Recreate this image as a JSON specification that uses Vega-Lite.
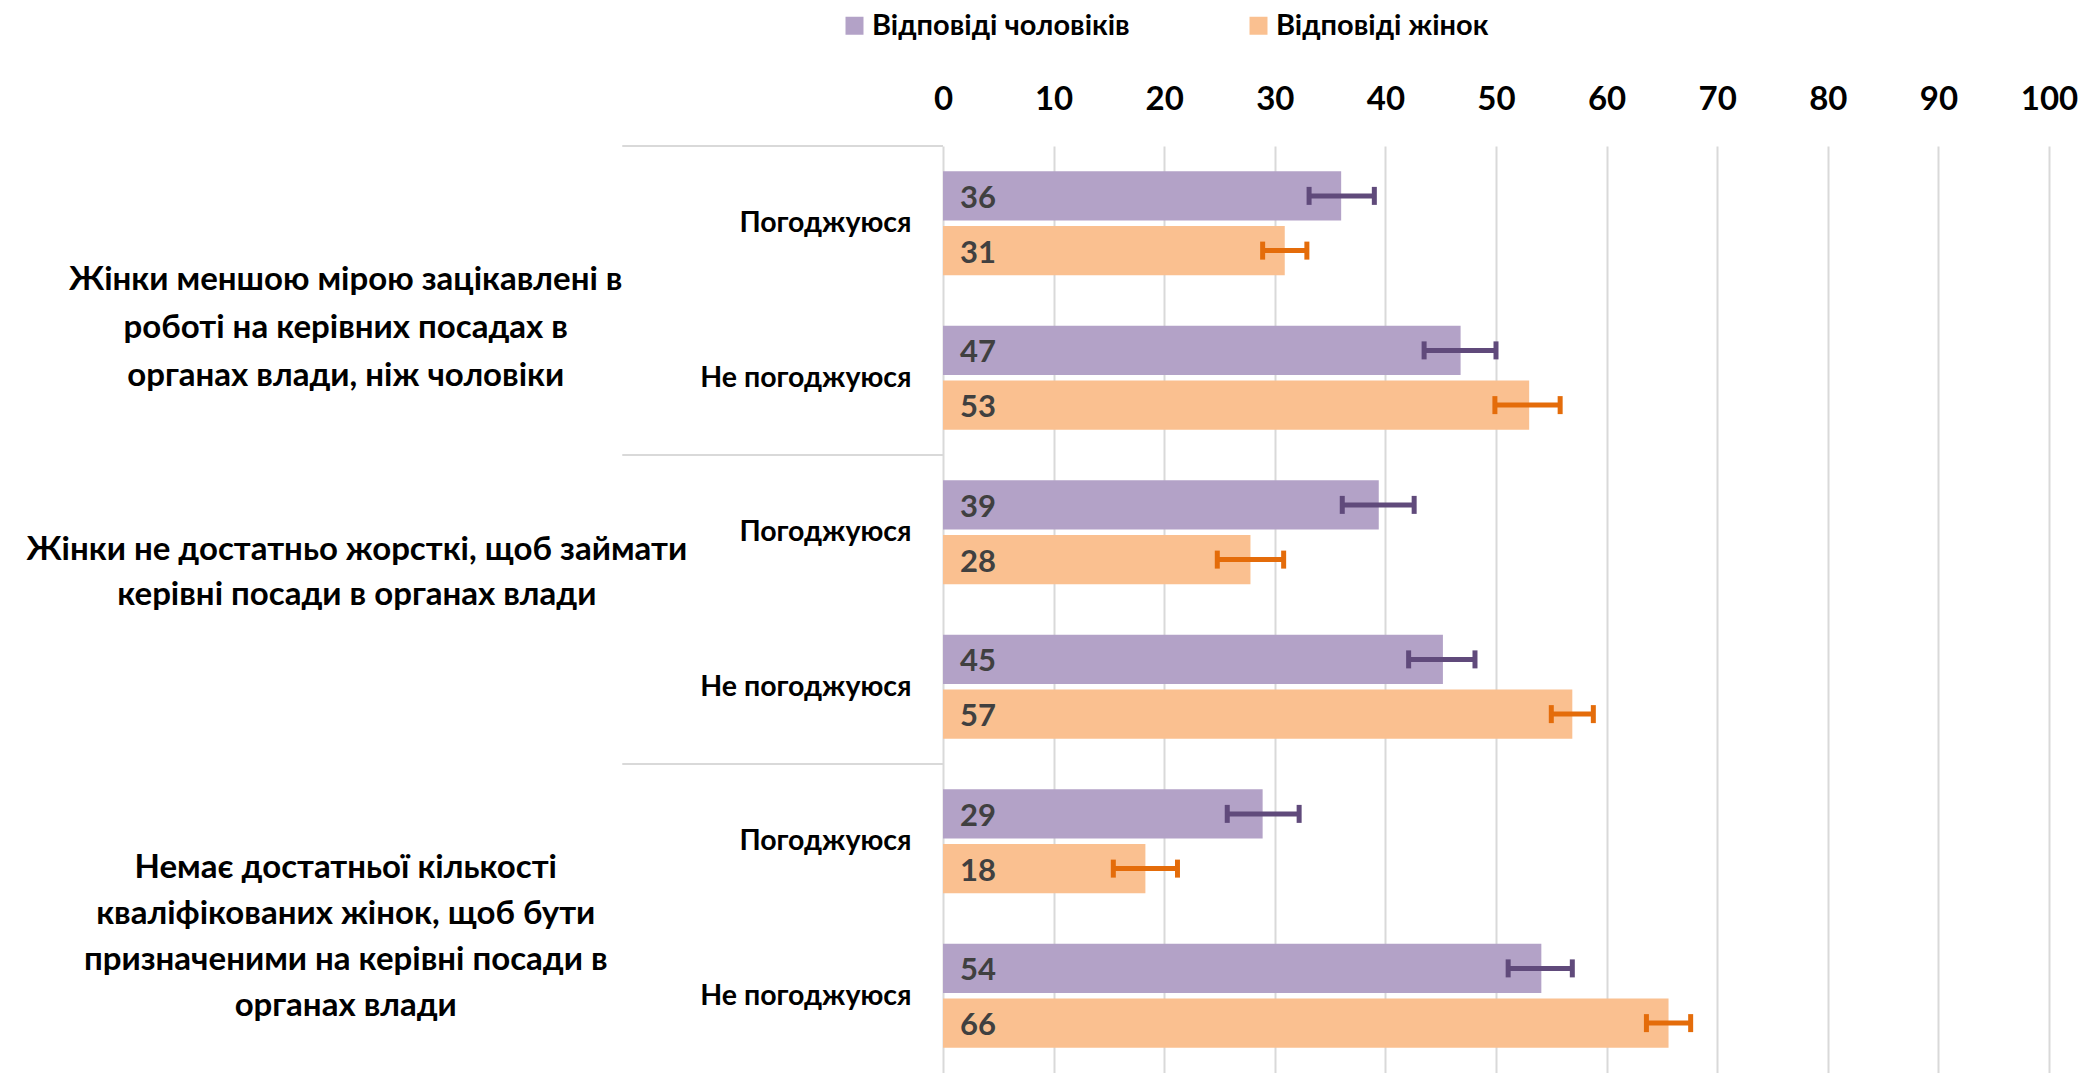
{
  "$schema": "https://vega.github.io/schema/vega-lite/v6.json",
  "autosize": "none",
  "padding": {"left": 943, "top": 146, "right": 48, "bottom": 0},
  "width": 1106,
  "height": 927,
  "background": "white",
  "datasets": {
    "bars": [
      {"key": "1|Погоджуюся", "resp": "Погоджуюся", "gender": "Відповіді чоловіків", "value": 36.0, "lo": 33.1, "hi": 39.0},
      {"key": "1|Погоджуюся", "resp": "Погоджуюся", "gender": "Відповіді жінок", "value": 30.9, "lo": 28.9, "hi": 32.9},
      {"key": "1|Не погоджуюся", "resp": "Не погоджуюся", "gender": "Відповіді чоловіків", "value": 46.8, "lo": 43.5, "hi": 50.0},
      {"key": "1|Не погоджуюся", "resp": "Не погоджуюся", "gender": "Відповіді жінок", "value": 53.0, "lo": 49.9, "hi": 55.8},
      {"key": "2|Погоджуюся", "resp": "Погоджуюся", "gender": "Відповіді чоловіків", "value": 39.4, "lo": 36.1, "hi": 42.6},
      {"key": "2|Погоджуюся", "resp": "Погоджуюся", "gender": "Відповіді жінок", "value": 27.8, "lo": 24.8, "hi": 30.8},
      {"key": "2|Не погоджуюся", "resp": "Не погоджуюся", "gender": "Відповіді чоловіків", "value": 45.2, "lo": 42.1, "hi": 48.1},
      {"key": "2|Не погоджуюся", "resp": "Не погоджуюся", "gender": "Відповіді жінок", "value": 56.9, "lo": 55.0, "hi": 58.8},
      {"key": "3|Погоджуюся", "resp": "Погоджуюся", "gender": "Відповіді чоловіків", "value": 28.9, "lo": 25.7, "hi": 32.2},
      {"key": "3|Погоджуюся", "resp": "Погоджуюся", "gender": "Відповіді жінок", "value": 18.3, "lo": 15.4, "hi": 21.2},
      {"key": "3|Не погоджуюся", "resp": "Не погоджуюся", "gender": "Відповіді чоловіків", "value": 54.1, "lo": 51.1, "hi": 56.9},
      {"key": "3|Не погоджуюся", "resp": "Не погоджуюся", "gender": "Відповіді жінок", "value": 65.6, "lo": 63.6, "hi": 67.6}
    ],
    "questions": [
      {"q": 1, "key": "1|Не погоджуюся", "text": "Жінки меншою мірою зацікавлені в\nроботі на керівних посадах в\nорганах влади, ніж чоловіки"},
      {"q": 2, "key": "2|Не погоджуюся", "text": "Жінки не достатньо жорсткі, щоб займати\nкерівні посади в органах влади"},
      {"q": 3, "key": "3|Не погоджуюся", "text": "Немає достатньої кількості\nкваліфікованих жінок, щоб бути\nпризначеними на керівні посади в\nорганах влади"}
    ]
  },
  "encoding": {
    "y": {
      "field": "key",
      "type": "nominal",
      "title": null,
      "scale": {
        "domain": ["1|Погоджуюся", "1|Не погоджуюся", "2|Погоджуюся", "2|Не погоджуюся", "3|Погоджуюся", "3|Не погоджуюся"],
        "paddingInner": 0,
        "paddingOuter": 0
      },
      "axis": {
        "labelExpr": "split(datum.label, '|')[1]",
        "domain": false,
        "ticks": false,
        "grid": false,
        "labelFont": "Lato",
        "labelFontSize": 28.5,
        "labelFontWeight": "bold",
        "labelColor": "#000000",
        "labelPadding": 32,
        "labelLimit": 0
      }
    }
  },
  "layer": [
    {
      "data": {"name": "bars"},
      "mark": {"type": "bar"},
      "encoding": {
        "x": {
          "field": "value",
          "type": "quantitative",
          "title": null,
          "scale": {"domain": [0, 100], "nice": false},
          "axis": {
            "orient": "top",
            "values": [0, 10, 20, 30, 40, 50, 60, 70, 80, 90, 100],
            "domain": false,
            "ticks": false,
            "grid": true,
            "gridColor": "#D9D9D9",
            "gridWidth": 2,
            "labelFlush": false,
            "labelFont": "Lato",
            "labelFontSize": 33,
            "labelFontWeight": "bold",
            "labelColor": "#000000",
            "labelPadding": 30
          }
        },
        "yOffset": {
          "field": "gender",
          "type": "nominal",
          "sort": ["Відповіді чоловіків", "Відповіді жінок"],
          "scale": {"paddingInner": 0.097, "paddingOuter": 0.46}
        },
        "color": {
          "field": "gender",
          "type": "nominal",
          "scale": {"domain": ["Відповіді чоловіків", "Відповіді жінок"], "range": ["#B3A2C7", "#FAC090"]},
          "legend": {
            "title": null,
            "orient": "none",
            "direction": "horizontal",
            "legendX": -103,
            "legendY": -135,
            "symbolType": "square",
            "symbolSize": 324,
            "symbolStrokeWidth": 0,
            "symbolOpacity": 1,
            "labelFont": "Lato",
            "labelFontSize": 29,
            "labelFontWeight": "bold",
            "labelColor": "#000000",
            "labelOffset": 3,
            "columnPadding": 114,
            "labelLimit": 0,
            "padding": 0
          }
        }
      }
    },
    {
      "data": {"name": "bars"},
      "mark": {"type": "rule", "strokeWidth": 5},
      "encoding": {
        "x": {"field": "lo", "type": "quantitative"},
        "x2": {"field": "hi"},
        "yOffset": {"field": "gender", "type": "nominal", "sort": ["Відповіді чоловіків", "Відповіді жінок"]},
        "color": {
          "field": "gender",
          "type": "nominal",
          "scale": {"domain": ["Відповіді чоловіків", "Відповіді жінок"], "range": ["#604A7B", "#E46C0A"]},
          "legend": null
        }
      }
    },
    {
      "data": {"name": "bars"},
      "transform": [{"fold": ["lo", "hi"], "as": ["end", "pos"]}],
      "mark": {"type": "tick", "thickness": 5, "size": 18, "opacity": 1},
      "encoding": {
        "x": {"field": "pos", "type": "quantitative"},
        "yOffset": {"field": "gender", "type": "nominal", "sort": ["Відповіді чоловіків", "Відповіді жінок"]},
        "color": {
          "field": "gender",
          "type": "nominal",
          "scale": {"domain": ["Відповіді чоловіків", "Відповіді жінок"], "range": ["#604A7B", "#E46C0A"]},
          "legend": null
        }
      }
    },
    {
      "data": {"name": "bars"},
      "mark": {"type": "text", "align": "left", "baseline": "middle", "dx": 17, "dy": 3, "font": "Lato", "fontSize": 31, "fontWeight": "bold", "color": "#404040"},
      "encoding": {
        "x": {"datum": 0, "type": "quantitative"},
        "yOffset": {"field": "gender", "type": "nominal", "sort": ["Відповіді чоловіків", "Відповіді жінок"]},
        "text": {"field": "value", "type": "quantitative", "format": ".0f"}
      }
    },
    {
      "data": {"name": "bars"},
      "transform": [{"filter": "datum.resp == 'Погоджуюся' && datum.gender == 'Відповіді чоловіків'"}],
      "mark": {"type": "rule", "color": "#D9D9D9", "strokeWidth": 2},
      "encoding": {
        "x": {"datum": -29, "type": "quantitative"},
        "x2": {"datum": 0},
        "y": {"field": "key", "type": "nominal", "bandPosition": 0}
      }
    },
    {
      "data": {"name": "questions"},
      "transform": [{"filter": "datum.q == 1"}],
      "mark": {"type": "text", "align": "center", "baseline": "middle", "lineBreak": "\n", "lineHeight": 48, "dy": -21, "font": "Lato", "fontSize": 33, "fontWeight": "bold", "color": "#000000"},
      "encoding": {
        "x": {"datum": -54, "type": "quantitative"},
        "y": {"field": "key", "type": "nominal", "bandPosition": 0},
        "text": {"field": "text"}
      }
    },
    {
      "data": {"name": "questions"},
      "transform": [{"filter": "datum.q == 2"}],
      "mark": {"type": "text", "align": "center", "baseline": "middle", "lineBreak": "\n", "lineHeight": 45, "dy": -60, "font": "Lato", "fontSize": 33, "fontWeight": "bold", "color": "#000000"},
      "encoding": {
        "x": {"datum": -53, "type": "quantitative"},
        "y": {"field": "key", "type": "nominal", "bandPosition": 0},
        "text": {"field": "text"}
      }
    },
    {
      "data": {"name": "questions"},
      "transform": [{"filter": "datum.q == 3"}],
      "mark": {"type": "text", "align": "center", "baseline": "middle", "lineBreak": "\n", "lineHeight": 46, "dy": -51, "font": "Lato", "fontSize": 33, "fontWeight": "bold", "color": "#000000"},
      "encoding": {
        "x": {"datum": -54, "type": "quantitative"},
        "y": {"field": "key", "type": "nominal", "bandPosition": 0},
        "text": {"field": "text"}
      }
    }
  ],
  "resolve": {"scale": {"color": "independent"}},
  "config": {
    "view": {"stroke": null},
    "font": "Lato"
  }
}
